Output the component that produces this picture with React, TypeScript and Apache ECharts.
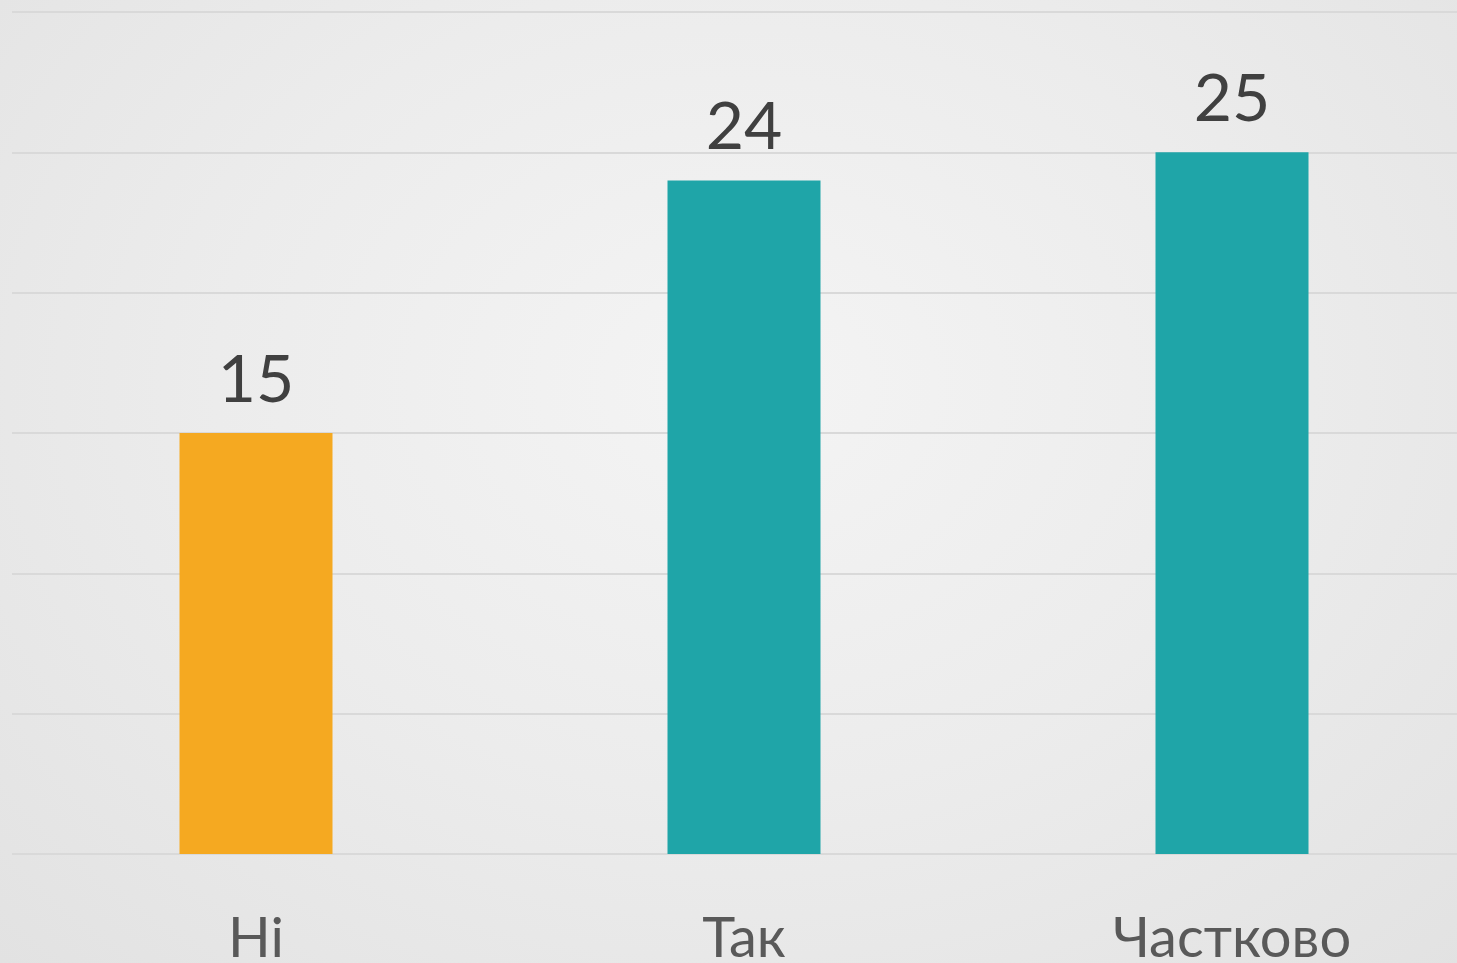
import React, { useEffect, useRef } from "react";
import * as echarts from "echarts";

const categories = ["Ні", "Так", "Частково"];
const values = [15, 24, 25];
const barColors = ["#F5A921", "#1FA5A8", "#1FA5A8"];
const yMin = 0;
const yMax = 30;
const yInterval = 5;

export default function App() {
  const ref = useRef<HTMLDivElement>(null);
  useEffect(() => {
    if (!ref.current) return;
    const chart = echarts.init(ref.current, undefined, { renderer: "svg" });
    chart.setOption({
      animation: false,
      backgroundColor: "transparent",
      grid: { left: 12, right: 0, top: 12, bottom: 108, containLabel: false },
      xAxis: {
        type: "category",
        data: categories,
        axisLine: { show: false },
        axisTick: { show: false },
        axisLabel: {
          color: "#595959",
          fontFamily: "Lato",
          fontSize: 56,
          margin: 53,
        },
      },
      yAxis: {
        type: "value",
        min: yMin,
        max: yMax,
        interval: yInterval,
        axisLabel: { show: false },
        axisLine: { show: false },
        axisTick: { show: false },
        splitLine: { lineStyle: { color: "#d9d9d9", width: 2 } },
      },
      series: [
        {
          type: "bar",
          barWidth: 153,
          data: values.map((v, i) => ({ value: v, itemStyle: { color: barColors[i] } })),
          label: {
            show: true,
            position: "top",
            distance: 24,
            color: "#404040",
            fontFamily: "Lato",
            fontSize: 66,
          },
        },
      ],
    });
    return () => chart.dispose();
  }, []);
  return (
    <div
      style={{
        position: "fixed",
        left: 0,
        top: 0,
        width: 1476,
        height: 963,
        background: "radial-gradient(ellipse at 50% 40%, #f4f4f4 0%, #ececec 50%, #e2e2e2 100%)",
      }}
    >
      <div ref={ref} style={{ width: 1476, height: 963 }} />
    </div>
  );
}
